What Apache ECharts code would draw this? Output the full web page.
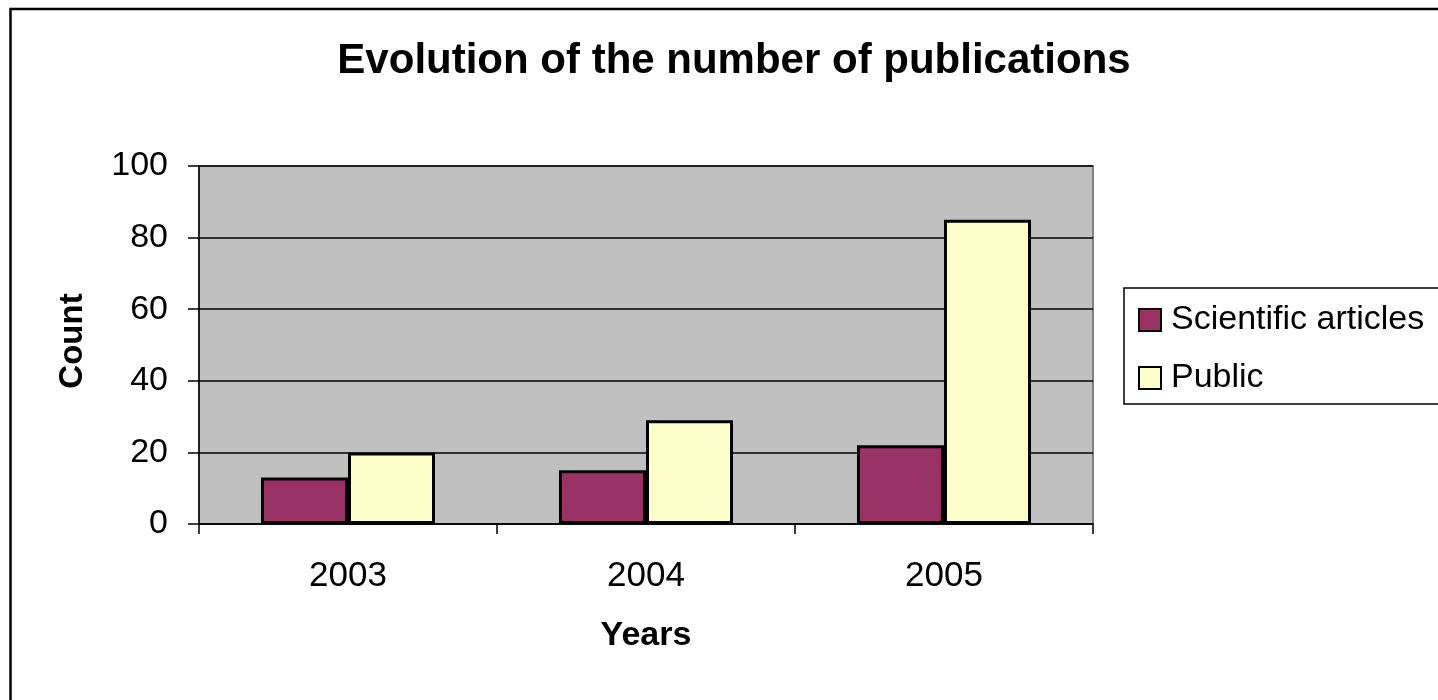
<!DOCTYPE html>
<html>
<head>
<meta charset="utf-8">
<title>Evolution of the number of publications</title>
<script src="https://cdn.jsdelivr.net/npm/echarts@6/dist/echarts.min.js"></script>
<style>
  html, body { margin: 0; padding: 0; background: #ffffff; }
  #chart { width: 1438px; height: 700px; }
</style>
</head>
<body>
<div id="chart"></div>
<script>
// Publication counts per year
const years = ['2003', '2004', '2005'];
const scientificArticles = [13, 15, 22];
const publicItems = [20, 29, 85];
const seriesNames = ['Scientific articles', 'Public'];
const yTicks = { min: 0, max: 100, interval: 20 };

const FONT = '"Liberation Sans", Arial, Helvetica, sans-serif';

const chart = echarts.init(document.getElementById('chart'), null, { renderer: 'canvas' });

const barBorder = { borderColor: '#000000', borderWidth: 3 };

chart.setOption({
  backgroundColor: '#ffffff',
  animation: false,
  textStyle: { fontFamily: FONT, color: '#000000' },
  title: {
    text: 'Evolution of the number of publications',
    left: 734,
    top: 40,
    padding: 0,
    textAlign: 'center',
    textStyle: { fontFamily: FONT, fontSize: 42, fontWeight: 'bold', color: '#000000' }
  },
  // outer chart frame
  graphic: [{
    type: 'rect',
    shape: { x: 10.5, y: 9, width: 3000, height: 3000 },
    style: { fill: 'none', stroke: '#000000', lineWidth: 2.5 },
    silent: true,
    z: 100
  }],
  legend: {
    orient: 'vertical',
    left: 1124,
    top: 288,
    padding: [15, 40, 9, 14],
    itemGap: 24,
    itemWidth: 22,
    itemHeight: 22,
    borderColor: '#000000',
    borderWidth: 1.5,
    backgroundColor: '#ffffff',
    icon: 'rect',
    textStyle: { fontFamily: FONT, fontSize: 34, color: '#000000', padding: [0, 0, 0, 5] },
    data: seriesNames
  },
  grid: {
    left: 199,
    right: 345,
    top: 166,
    bottom: 176,
    show: true,
    backgroundColor: '#C0C0C0',
    borderColor: '#808080',
    borderWidth: 2
  },
  xAxis: {
    type: 'category',
    data: years,
    boundaryGap: true,
    name: 'Years',
    nameLocation: 'middle',
    nameGap: 95,
    nameTextStyle: { fontFamily: FONT, fontSize: 34, fontWeight: 'bold', color: '#000000' },
    axisLine: { show: true, lineStyle: { color: '#000000', width: 1.5 } },
    axisTick: { show: true, length: 10, lineStyle: { color: '#000000', width: 1.5 } },
    axisLabel: { margin: 35, fontFamily: FONT, fontSize: 35, color: '#000000' },
    splitLine: { show: false }
  },
  yAxis: {
    type: 'value',
    min: yTicks.min,
    max: yTicks.max,
    interval: yTicks.interval,
    name: 'Count',
    nameLocation: 'middle',
    nameGap: 110,
    nameRotate: 90,
    nameTextStyle: { fontFamily: FONT, fontSize: 33, fontWeight: 'bold', color: '#000000', padding: [0, 0, 0, 8] },
    axisLine: { show: true, lineStyle: { color: '#000000', width: 1.5 } },
    axisTick: { show: true, length: 11, lineStyle: { color: '#000000', width: 1.5 } },
    axisLabel: { margin: 31, fontFamily: FONT, fontSize: 34, color: '#000000' },
    splitLine: { show: true, lineStyle: { color: '#000000', width: 1.5 } }
  },
  series: [
    {
      name: seriesNames[0],
      type: 'bar',
      data: scientificArticles,
      barGap: '0%',
      barCategoryGap: '41.6%',
      itemStyle: Object.assign({ color: '#993366' }, barBorder)
    },
    {
      name: seriesNames[1],
      type: 'bar',
      data: publicItems,
      barGap: '0%',
      barCategoryGap: '41.6%',
      itemStyle: Object.assign({ color: '#FFFFCC' }, barBorder)
    }
  ]
});
</script>
</body>
</html>
